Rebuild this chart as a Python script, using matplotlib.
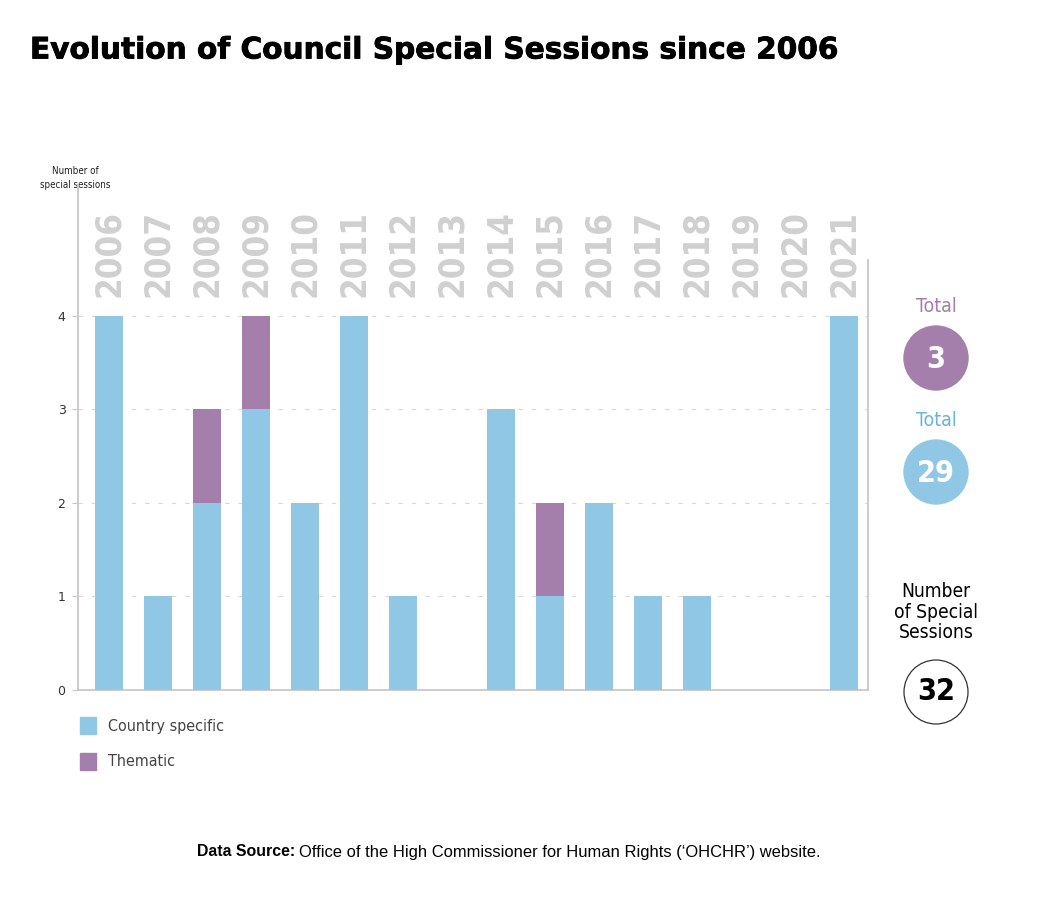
import os
import matplotlib
matplotlib.use("Agg")
import matplotlib.pyplot as plt
import matplotlib.patheffects as pe
from matplotlib import font_manager
from matplotlib.font_manager import FontProperties
from matplotlib.patches import Circle, Rectangle

years = ["2006", "2007", "2008", "2009", "2010", "2011", "2012", "2013",
         "2014", "2015", "2016", "2017", "2018", "2019", "2020", "2021"]
country = [4, 1, 2, 3, 2, 4, 1, 0, 3, 1, 2, 1, 1, 0, 0, 4]
thematic = [0, 0, 1, 1, 0, 0, 0, 0, 0, 1, 0, 0, 0, 0, 0, 0]

blue = "#8fc7e4"
purple = "#a47fab"


# look for a condensed / narrow font file, the reference uses one
def find_narrow(bold):
    found = []
    for f in font_manager.fontManager.ttflist:
        fn = os.path.basename(f.fname).lower()
        if "condensed" not in fn and "narrow" not in fn:
            continue
        if any(k in fn for k in ["italic", "oblique", "semi", "extra", "ultra", "light",
                                  "black", "medium", "thin", "mono"]):
            continue
        if ("bold" in fn) != bold:
            continue
        found.append(f.fname)
    for key in ["liberationsansnarrow", "dejavusanscondensed", "notosans", "roboto", "opensans"]:
        for fn in found:
            if key in os.path.basename(fn).lower().replace("-", "").replace("_", ""):
                return fn
    return found[0] if found else None


reg = find_narrow(False)
bld = find_narrow(True)
fp = FontProperties(fname=reg) if reg else FontProperties(family="DejaVu Sans")
fpb = FontProperties(fname=bld) if bld else FontProperties(family="DejaVu Sans", weight="bold")
k = 1.0 if reg else 0.85  # shrink when no narrow font exists


def f(props, size):
    p = props.copy()
    p.set_size(size)
    return p


W, H = 1050, 906
fig = plt.figure(figsize=(10.5, 9.06), dpi=100)

# overlay in pixel coordinates for the annotations around the chart
ov = fig.add_axes([0, 0, 1, 1], zorder=-1)
ov.set_xlim(0, W)
ov.set_ylim(H, 0)
ov.axis("off")

ax = fig.add_axes([78 / W, 1 - 690 / H, 790 / W, (690 - 185) / H])
ax.patch.set_alpha(0)

x = range(len(years))
ax.bar(x, country, width=0.57, color=blue, zorder=3)
ax.bar(x, thematic, bottom=country, width=0.57, color=purple, zorder=3)

ax.set_xlim(-0.63, 15.49)
ax.set_ylim(0, 5.4)
ax.set_yticks([0, 1, 2, 3, 4])
ax.set_xticks([])
ax.tick_params(axis="y", length=4, color="#c8c8c8", labelsize=9, labelcolor="#333333", pad=5)
for v in [1, 2, 3, 4]:
    ax.axhline(v, color="#d8d8d8", lw=0.8, ls=(0, (4, 8)), zorder=1)

for s in ["left", "right", "bottom"]:
    ax.spines[s].set_color("#c8c8c8")
    ax.spines[s].set_linewidth(1.3)
ax.spines["top"].set_visible(False)
ax.spines["right"].set_bounds(0, 4.6)

for i, yr in enumerate(years):
    ax.text(i, 4.2, yr, rotation=90, ha="center", va="bottom", color="#d0d0d0",
            fontproperties=f(fpb, 25 * k), zorder=2)

ov.text(30, 50, "Evolution of Council Special Sessions since 2006", fontsize=21.3,
        fontweight="heavy", va="center", ha="left", color="black",
        path_effects=[pe.withStroke(linewidth=0.6, foreground="black")])

ov.text(75, 178, "Number of\nspecial sessions", ha="center", va="center",
        fontproperties=f(fp, 7 * k), linespacing=1.5, color="#222222")

ov.add_patch(Rectangle((80, 717), 16, 17, color=blue))
ov.text(108, 726, "Country specific", va="center", fontproperties=f(fp, 11.5 * k), color="#444444")
ov.add_patch(Rectangle((80, 753), 16, 17, color=purple))
ov.text(108, 762, "Thematic", va="center", fontproperties=f(fp, 11.5 * k), color="#444444")

# totals on the right
cx = 936
ov.text(cx, 306, "Total", ha="center", va="center", fontproperties=f(fp, 14 * k), color=purple)
ov.add_patch(Circle((cx, 358), 32, color=purple))
ov.text(cx, 359, str(sum(thematic)), ha="center", va="center", fontproperties=f(fpb, 22 * k),
        color="white")
ov.text(cx, 421, "Total", ha="center", va="center", fontproperties=f(fp, 14 * k), color="#6ab3dc")
ov.add_patch(Circle((cx, 472), 32, color=blue))
ov.text(cx, 473, str(sum(country)), ha="center", va="center", fontproperties=f(fpb, 22 * k),
        color="white")
ov.text(cx, 612, "Number\nof Special\nSessions", ha="center", va="center",
        fontproperties=f(fp, 13.8 * k), linespacing=1.08, color="black")
ov.add_patch(Circle((cx, 692), 32, facecolor="white", edgecolor="#333333", lw=0.9))
ov.text(cx, 692, str(sum(country) + sum(thematic)), ha="center", va="center",
        fontproperties=f(fpb, 22 * k), color="black")

ov.text(295, 852, "Data Source:", fontsize=11.4, fontweight="bold", ha="right",
        va="center", family="Liberation Sans")
ov.text(299, 852, "Office of the High Commissioner for Human Rights (\u2018OHCHR\u2019) website.",
        fontsize=11.9, ha="left", va="center", family="Liberation Sans")

fig.savefig("out.png", dpi=100)
